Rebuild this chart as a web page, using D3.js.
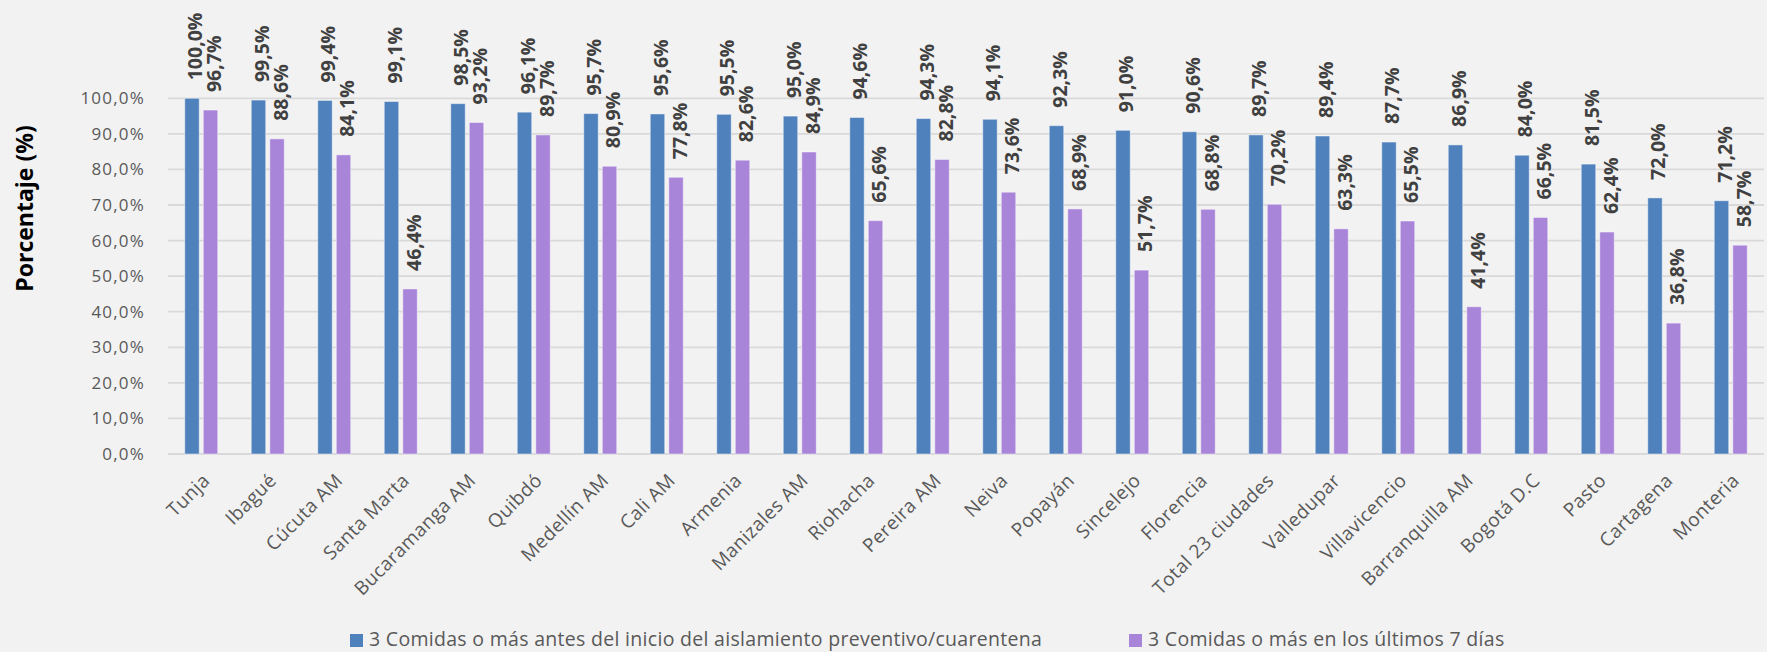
<!DOCTYPE html>
<html>
<head>
<meta charset="utf-8">
<script src="https://cdn.jsdelivr.net/npm/d3@7"></script>
<style>
  body { margin: 0; background: #f2f2f2; }
  svg { display: block; font-family: "Open Sans", sans-serif; }
</style>
</head>
<body>
<div id="viz"></div>
<script>
var cities = ["Tunja", "Ibagué", "Cúcuta AM", "Santa Marta", "Bucaramanga AM", "Quibdó",
  "Medellín AM", "Cali AM", "Armenia", "Manizales AM", "Riohacha", "Pereira AM", "Neiva",
  "Popayán", "Sincelejo", "Florencia", "Total 23 ciudades", "Valledupar", "Villavicencio",
  "Barranquilla AM", "Bogotá D.C", "Pasto", "Cartagena", "Monteria"];
var antes = [100.0, 99.5, 99.4, 99.1, 98.5, 96.1, 95.7, 95.6, 95.5, 95.0, 94.6, 94.3, 94.1,
  92.3, 91.0, 90.6, 89.7, 89.4, 87.7, 86.9, 84.0, 81.5, 72.0, 71.2];
var ultimos = [96.7, 88.6, 84.1, 46.4, 93.2, 89.7, 80.9, 77.8, 82.6, 84.9, 65.6, 82.8, 73.6,
  68.9, 51.7, 68.8, 70.2, 63.3, 65.5, 41.4, 66.5, 62.4, 36.8, 58.7];
var seriesNames = ["3 Comidas o más antes del inicio del aislamiento preventivo/cuarentena",
  "3 Comidas o más en los últimos 7 días"];
var yTicks = [0, 10, 20, 30, 40, 50, 60, 70, 80, 90, 100];
var colors = ["#4f81bd", "#a985da"];

var W = 1767, H = 652;
var svg = d3.select("#viz").append("svg")
    .attr("width", W)
    .attr("height", H);

svg.append("rect").attr("width", W).attr("height", H).attr("fill", "#f2f2f2");

var x = d3.scaleBand().domain(cities).range([168, 1764]);
var x1 = d3.scaleBand().domain([0, 1]).range([-16.5, 16.5]).paddingInner(0.22);
var y = d3.scaleLinear().domain([0, 100]).range([454, 98.3]);

var fmt = function(v) { return v.toFixed(1).replace(".", ",") + "%"; };

// gridlines
svg.append("g")
    .selectAll("line")
    .data(yTicks).enter()
    .append("line")
      .attr("x1", 168)
      .attr("x2", 1764)
      .attr("y1", function(d) { return y(d); })
      .attr("y2", function(d) { return y(d); })
      .attr("stroke", "#d9d9d9")
      .attr("stroke-width", 1.8);

// y axis labels
var yAxis = d3.axisLeft(y).tickValues(yTicks).tickFormat(fmt).tickSize(0).tickPadding(0);
var yG = svg.append("g")
    .attr("transform", "translate(145,0)")
    .call(yAxis);
yG.select(".domain").remove();
yG.selectAll("text")
    .attr("fill", "#595959")
    .style("font-size", "17px")
    .style("letter-spacing", "1.2px")
    .style("font-family", "'Open Sans', sans-serif");

// y title
svg.append("text")
    .attr("transform", "translate(33,208.5) rotate(-90)")
    .attr("text-anchor", "middle")
    .style("font-size", "23px")
    .style("font-weight", "bold")
    .attr("fill", "#000")
    .text("Porcentaje (%)");

var records = [];
cities.forEach(function(c, i) {
    records.push({city: c, s: 0, value: antes[i]});
    records.push({city: c, s: 1, value: ultimos[i]});
});

var barX = function(d) { return x(d.city) + x.bandwidth() / 2 + x1(d.s); };

svg.append("g")
    .selectAll("rect")
    .data(records).enter()
    .append("rect")
      .attr("x", barX)
      .attr("width", x1.bandwidth())
      .attr("y", function(d) { return y(d.value); })
      .attr("height", function(d) { return y(0) - y(d.value); })
      .attr("fill", function(d) { return colors[d.s]; })
      .attr("stroke", "rgba(255,255,255,0.45)")
      .attr("stroke-width", 1);

// data labels
svg.append("g")
    .selectAll("text")
    .data(records).enter()
    .append("text")
      .attr("transform", function(d) {
          return "translate(" + (barX(d) + x1.bandwidth() / 2 + 3) + "," + (y(d.value) - 18) + ") rotate(-90)";
      })
      .attr("dominant-baseline", "central")
      .attr("fill", "#404040")
      .style("font-size", "19.5px")
      .style("font-weight", "bold")
      .text(function(d) { return fmt(d.value); });

// x labels
svg.append("g")
    .selectAll("text")
    .data(cities).enter()
    .append("text")
      .attr("transform", function(d) {
          return "translate(" + (x(d) + x.bandwidth() / 2 + 5) + ",477) rotate(-45)";
      })
      .attr("text-anchor", "end")
      .attr("dy", "0.35em")
      .attr("fill", "#595959")
      .style("font-size", "19px")
      .style("letter-spacing", "0.4px")
      .text(function(d) { return d; });

// legend
var legendX = [350, 1129];
var lg = svg.append("g").selectAll("g")
    .data(seriesNames).enter()
    .append("g")
      .attr("transform", function(d, i) { return "translate(" + legendX[i] + ",646)"; });
lg.append("rect")
    .attr("x", 0).attr("y", -12)
    .attr("width", 13).attr("height", 13)
    .attr("fill", function(d, i) { return colors[i]; });
lg.append("text")
    .attr("x", 19)
    .attr("fill", "#595959")
    .style("font-size", "19.5px")
    .style("letter-spacing", "0.3px")
    .text(function(d) { return d; });
</script>
</body>
</html>
